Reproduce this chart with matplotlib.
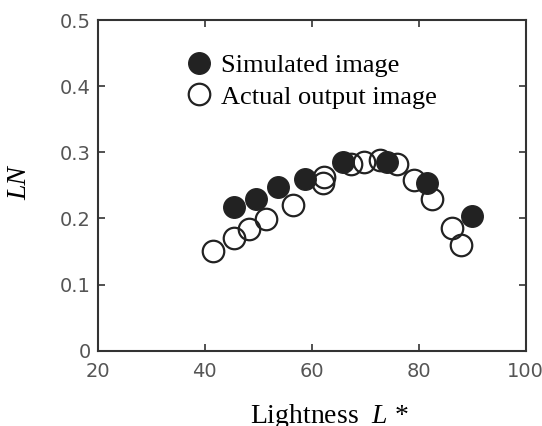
import matplotlib.pyplot as plt
from matplotlib.lines import Line2D

plt.rcParams['mathtext.fontset'] = 'custom'
plt.rcParams['mathtext.it'] = 'Liberation Serif:italic'
plt.rcParams['mathtext.rm'] = 'Liberation Serif'

# 数据
sim_x = [45.5, 49.6, 53.7, 58.8, 65.9, 74.0, 81.5, 89.9]
sim_y = [0.217, 0.229, 0.247, 0.260, 0.285, 0.285, 0.254, 0.204]

act_x = [41.5, 45.4, 48.3, 51.4, 56.5, 62.2, 62.1, 67.4, 69.8, 72.7, 75.9, 79.2, 82.5, 86.3, 87.9]
act_y = [0.151, 0.171, 0.184, 0.199, 0.220, 0.262, 0.254, 0.283, 0.286, 0.289, 0.283, 0.258, 0.229, 0.186, 0.160]

x_ticks = [20, 40, 60, 80, 100]
y_ticks = [0, 0.1, 0.2, 0.3, 0.4, 0.5]
y_tick_labels = ['0', '0.1', '0.2', '0.3', '0.4', '0.5']

serif = ['Liberation Serif', 'DejaVu Serif']
dark = '#222222'
ms = 15.5

fig = plt.figure(figsize=(5.42, 4.26), dpi=100)
ax = fig.add_axes([0.1803, 0.1768, 0.7897, 0.7762])

ax.plot(act_x, act_y, 'o', markersize=ms, markerfacecolor='none',
        markeredgecolor=dark, markeredgewidth=1.6, zorder=3)
ax.plot(sim_x, sim_y, 'o', markersize=ms, markerfacecolor=dark,
        markeredgecolor=dark, zorder=4)

ax.set_xlim(20, 100)
ax.set_ylim(0, 0.5)
ax.set_xticks(x_ticks)
ax.set_yticks(y_ticks)
ax.set_yticklabels(y_tick_labels)
ax.tick_params(direction='in', length=5, width=1.2, color='#333333',
               top=True, right=True, labelsize=14, labelcolor='#555555')
ax.tick_params(axis='x', pad=8)
ax.tick_params(axis='y', pad=5)
for s in ax.spines.values():
    s.set_linewidth(1.5)
    s.set_color('#333333')

ax.set_xlabel('Lightness  $L$ *', fontsize=20, family=serif)
ax.xaxis.set_label_coords(0.54, -0.154)
ax.set_ylabel('LN', fontsize=20, family=serif, fontstyle='italic')
ax.yaxis.set_label_coords(-0.153, 0.507)

handles = [
    Line2D([], [], marker='o', linestyle='none', markersize=ms,
           markerfacecolor=dark, markeredgecolor=dark),
    Line2D([], [], marker='o', linestyle='none', markersize=ms,
           markerfacecolor='none', markeredgecolor=dark, markeredgewidth=1.6),
]
ax.legend(handles, ['Simulated image', 'Actual output image'],
          loc='upper left', bbox_to_anchor=(0.18, 0.93), frameon=False,
          prop={'family': serif, 'size': 19}, handlelength=1.0,
          handletextpad=0.35, labelspacing=0.3, borderaxespad=0)

fig.savefig('out.png', dpi=100)
